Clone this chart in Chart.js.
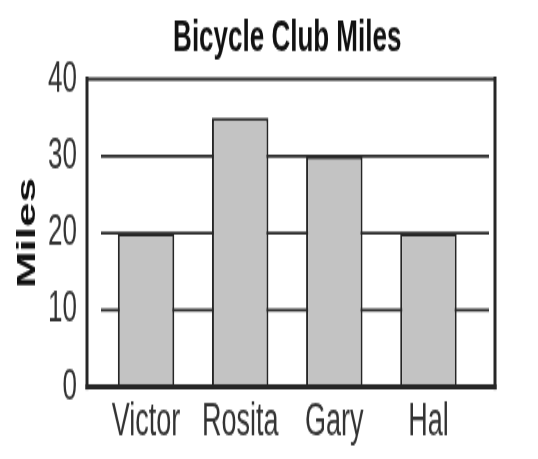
<!DOCTYPE html>
<html>
<head>
<meta charset="utf-8">
<script src="https://cdn.jsdelivr.net/npm/chart.js@4"></script>
<style>
  html, body { margin: 0; padding: 0; background: #fff; }
  body { width: 538px; height: 459px; overflow: visible; }
  #wrap { width: 538px; height: 270px; transform: scaleY(1.7); transform-origin: 0 0; }
</style>
</head>
<body>
<div id="wrap"><canvas id="milesChart" width="538" height="270"></canvas></div>
<script>
const riders = ['Victor', 'Rosita', 'Gary', 'Hal'];
const miles = [20, 35, 30, 20];
const yTicks = [0, 10, 20, 30, 40];
const gridValues = [10, 20, 30];

const ink = '#262626';

// frame and the short grid lines sit a little outside the category area
const framePlugin = {
  id: 'frame',
  beforeDatasetsDraw(chart) {
    const { ctx, chartArea, scales } = chart;
    ctx.save();
    ctx.strokeStyle = ink;
    ctx.lineWidth = 1.8;
    gridValues.forEach(v => {
      const y = scales.y.getPixelForValue(v);
      ctx.beginPath();
      ctx.moveTo(chartArea.left + 2, y);
      ctx.lineTo(chartArea.right + 13.5, y);
      ctx.stroke();
    });
    ctx.restore();
  },
  afterDatasetsDraw(chart) {
    const { ctx, chartArea } = chart;
    const l = chartArea.left - 12, r = chartArea.right + 19.5;
    const t = chartArea.top, b = chartArea.bottom;
    ctx.save();
    ctx.strokeStyle = ink;
    ctx.lineCap = 'square';
    ctx.lineWidth = 2;
    ctx.beginPath(); ctx.moveTo(l, t); ctx.lineTo(r, t); ctx.stroke();
    ctx.lineWidth = 3;
    ctx.beginPath(); ctx.moveTo(l, t); ctx.lineTo(l, b); ctx.stroke();
    ctx.beginPath(); ctx.moveTo(r, t); ctx.lineTo(r, b); ctx.stroke();
    ctx.beginPath(); ctx.moveTo(l, b); ctx.lineTo(r, b); ctx.stroke();
    ctx.restore();
  }
};

new Chart(document.getElementById('milesChart'), {
  type: 'bar',
  data: {
    labels: riders,
    datasets: [{
      label: 'Miles',
      data: miles,
      backgroundColor: '#c3c3c3',
      borderColor: ink,
      borderWidth: 2,
      borderSkipped: 'bottom',
      barPercentage: 0.6,
      categoryPercentage: 1
    }]
  },
  options: {
    responsive: false,
    animation: false,
    layout: { padding: { left: 0, right: 62.5, top: 0, bottom: 0 } },
    plugins: {
      legend: { display: false },
      tooltip: { enabled: false },
      title: {
        display: true,
        text: 'Bicycle Club Miles',
        fullSize: false,
        color: '#111',
        font: { family: '"Liberation Sans", Arial, sans-serif', size: 26, weight: 'bold' },
        padding: { top: 7, bottom: 8.3 }
      }
    },
    scales: {
      x: {
        grid: { display: false, drawTicks: false },
        border: { display: false },
        ticks: {
          color: '#333',
          padding: 5,
          font: { family: '"Liberation Sans", Arial, sans-serif', size: 27 }
        },
        afterFit(scale) { scale.height = 42.4; }
      },
      y: {
        min: 0,
        max: 40,
        grid: { display: false, drawTicks: false },
        border: { display: false },
        afterBuildTicks(scale) { scale.ticks = yTicks.map(v => ({ value: v })); },
        ticks: {
          color: '#333',
          padding: 22,
          font: { family: '"Liberation Sans", Arial, sans-serif', size: 26 }
        },
        title: {
          display: true,
          text: 'Miles',
          color: '#111',
          padding: { top: 12.4, bottom: 0 },
          font: { family: '"Liberation Sans", Arial, sans-serif', size: 26, weight: 'bold' }
        },
        afterFit(scale) { scale.width = 99; }
      }
    }
  },
  plugins: [framePlugin]
});
</script>
</body>
</html>
